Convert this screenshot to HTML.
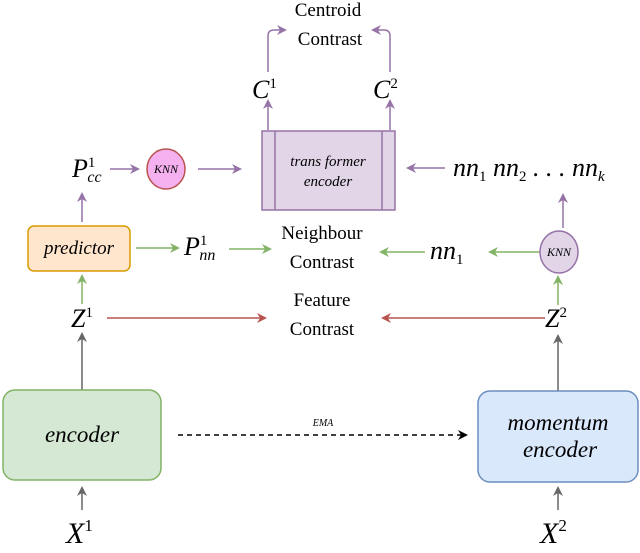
<!DOCTYPE html>
<html><head><meta charset="utf-8"><style>
body{margin:0;background:#fff}
svg text{font-family:"Liberation Serif",serif}
.m{font-style:italic;font-size:26px}
</style></head><body>
<svg width="640" height="548" viewBox="0 0 640 548" xmlns="http://www.w3.org/2000/svg">
<defs>
<marker id="ap" markerWidth="10" markerHeight="10" refX="8" refY="5" orient="auto" markerUnits="userSpaceOnUse"><path d="M0,0 L10,5 L0,10 L3,5z" fill="#9673a6"/></marker>
<marker id="ag" markerWidth="10" markerHeight="10" refX="8" refY="5" orient="auto" markerUnits="userSpaceOnUse"><path d="M0,0 L10,5 L0,10 L3,5z" fill="#82b366"/></marker>
<marker id="ar" markerWidth="10" markerHeight="10" refX="8" refY="5" orient="auto" markerUnits="userSpaceOnUse"><path d="M0,0 L10,5 L0,10 L3,5z" fill="#b85450"/></marker>
<marker id="ak" markerWidth="10" markerHeight="10" refX="8" refY="5" orient="auto" markerUnits="userSpaceOnUse"><path d="M0,0 L10,5 L0,10 L3,5z" fill="#666"/></marker>
<marker id="ab" markerWidth="10" markerHeight="10" refX="8" refY="5" orient="auto" markerUnits="userSpaceOnUse"><path d="M0,0 L10,5 L0,10 L3,5z" fill="#000"/></marker>
</defs>
<g fill="none" stroke-width="1.5">
<path d="M268,72 L268,36 Q268,30 274,30 L285,30" stroke="#9673a6" marker-end="url(#ap)"/>
<path d="M390,72 L390,36 Q390,30 384,30 L373,30" stroke="#9673a6" marker-end="url(#ap)"/>
<line x1="268" y1="130" x2="268" y2="101" stroke="#9673a6" marker-end="url(#ap)"/>
<line x1="390" y1="130" x2="390" y2="101" stroke="#9673a6" marker-end="url(#ap)"/>
<line x1="110" y1="169" x2="138" y2="169" stroke="#9673a6" marker-end="url(#ap)"/>
<line x1="198" y1="169" x2="240" y2="169" stroke="#9673a6" marker-end="url(#ap)"/>
<line x1="445" y1="168" x2="408" y2="168" stroke="#9673a6" marker-end="url(#ap)"/>
<line x1="82" y1="222" x2="82" y2="194" stroke="#9673a6" marker-end="url(#ap)"/>
<line x1="563" y1="228" x2="563" y2="195" stroke="#9673a6" marker-end="url(#ap)"/>
<line x1="136" y1="248" x2="178" y2="248" stroke="#82b366" marker-end="url(#ag)"/>
<line x1="229" y1="249" x2="270" y2="249" stroke="#82b366" marker-end="url(#ag)"/>
<line x1="425" y1="252" x2="381" y2="252" stroke="#82b366" marker-end="url(#ag)"/>
<line x1="540" y1="252" x2="490" y2="252" stroke="#82b366" marker-end="url(#ag)"/>
<line x1="82" y1="304" x2="82" y2="276" stroke="#82b366" marker-end="url(#ag)"/>
<line x1="558" y1="305" x2="558" y2="277" stroke="#82b366" marker-end="url(#ag)"/>
<line x1="107" y1="318" x2="265" y2="318" stroke="#b85450" marker-end="url(#ar)"/>
<line x1="545" y1="318" x2="383" y2="318" stroke="#b85450" marker-end="url(#ar)"/>
<line x1="82" y1="390" x2="82" y2="334" stroke="#666" marker-end="url(#ak)"/>
<line x1="558" y1="391" x2="558" y2="336" stroke="#666" marker-end="url(#ak)"/>
<line x1="82" y1="510" x2="82" y2="488" stroke="#666" marker-end="url(#ak)"/>
<line x1="558" y1="510" x2="558" y2="488" stroke="#666" marker-end="url(#ak)"/>
<line x1="178" y1="435" x2="466" y2="435" stroke="#000" stroke-dasharray="5,4" marker-end="url(#ab)"/>
</g>
<rect x="262" y="131" width="133" height="79" fill="#e1d5e7" stroke="#9673a6" stroke-width="1.5"/>
<line x1="275" y1="131" x2="275" y2="210" stroke="#9673a6" stroke-width="1.5"/>
<line x1="382" y1="131" x2="382" y2="210" stroke="#9673a6" stroke-width="1.5"/>
<text x="328" y="166" text-anchor="middle" font-style="italic" font-size="15">trans former</text>
<text x="328" y="186" text-anchor="middle" font-style="italic" font-size="15">encoder</text>
<ellipse cx="166" cy="169" rx="19" ry="20" fill="#f5b0ef" stroke="#b85450" stroke-width="1.5"/>
<text x="166" y="173" text-anchor="middle" font-style="italic" font-size="12">KNN</text>
<ellipse cx="559" cy="252" rx="19" ry="21" fill="#e1d5e7" stroke="#9673a6" stroke-width="1.5"/>
<text x="559" y="256" text-anchor="middle" font-style="italic" font-size="12">KNN</text>
<rect x="28" y="226" width="102" height="45" rx="6" fill="#ffe6cc" stroke="#d79b00" stroke-width="1.5"/>
<text x="79" y="254" text-anchor="middle" font-style="italic" font-size="19">predictor</text>
<rect x="3" y="390" width="158" height="90" rx="12" fill="#d5e8d4" stroke="#82b366" stroke-width="1.5"/>
<text x="82" y="442" text-anchor="middle" font-style="italic" font-size="23">encoder</text>
<rect x="478" y="391" width="160" height="91" rx="12" fill="#dae8fc" stroke="#6c8ebf" stroke-width="1.5"/>
<text x="558" y="430" text-anchor="middle" font-style="italic" font-size="23">momentum</text>
<text x="560" y="457" text-anchor="middle" font-style="italic" font-size="23">encoder</text>
<text x="323" y="426" text-anchor="middle" font-style="italic" font-size="10">EMA</text>
<g text-anchor="middle" font-size="19">
<text x="328" y="16">Centroid</text><text x="330" y="45">Contrast</text>
<text x="322" y="239">Neighbour</text><text x="322" y="268">Contrast</text>
<text x="322" y="306">Feature</text><text x="322" y="335">Contrast</text>
</g>
<g class="m">
<text x="252" y="98">C<tspan font-size="15" font-style="normal" dy="-10">1</tspan></text>
<text x="373" y="98">C<tspan font-size="15" font-style="normal" dy="-10">2</tspan></text>
<text x="72" y="177">P<tspan font-size="15" font-style="normal" dy="-10">1</tspan><tspan font-size="16" dx="-8" dy="15">cc</tspan></text>
<text x="184" y="255">P<tspan font-size="15" font-style="normal" dy="-10">1</tspan><tspan font-size="16" dx="-8" dy="15">nn</tspan></text>
<text x="453" y="176">nn<tspan font-size="15" font-style="normal" dy="5">1</tspan><tspan dy="-5"> nn</tspan><tspan font-size="15" font-style="normal" dy="5">2</tspan><tspan dy="-5"> . . . nn</tspan><tspan font-size="15" dy="5">k</tspan></text>
<text x="430" y="259">nn<tspan font-size="15" font-style="normal" dy="5">1</tspan></text>
<text x="71" y="327">Z<tspan font-size="15" font-style="normal" dy="-10">1</tspan></text>
<text x="545" y="327">Z<tspan font-size="15" font-style="normal" dy="-10">2</tspan></text>
<text x="66" y="543" font-size="30">X<tspan font-size="17" font-style="normal" dy="-12">1</tspan></text>
<text x="540" y="543" font-size="30">X<tspan font-size="17" font-style="normal" dy="-12">2</tspan></text>
</g>
</svg>
</body></html>
